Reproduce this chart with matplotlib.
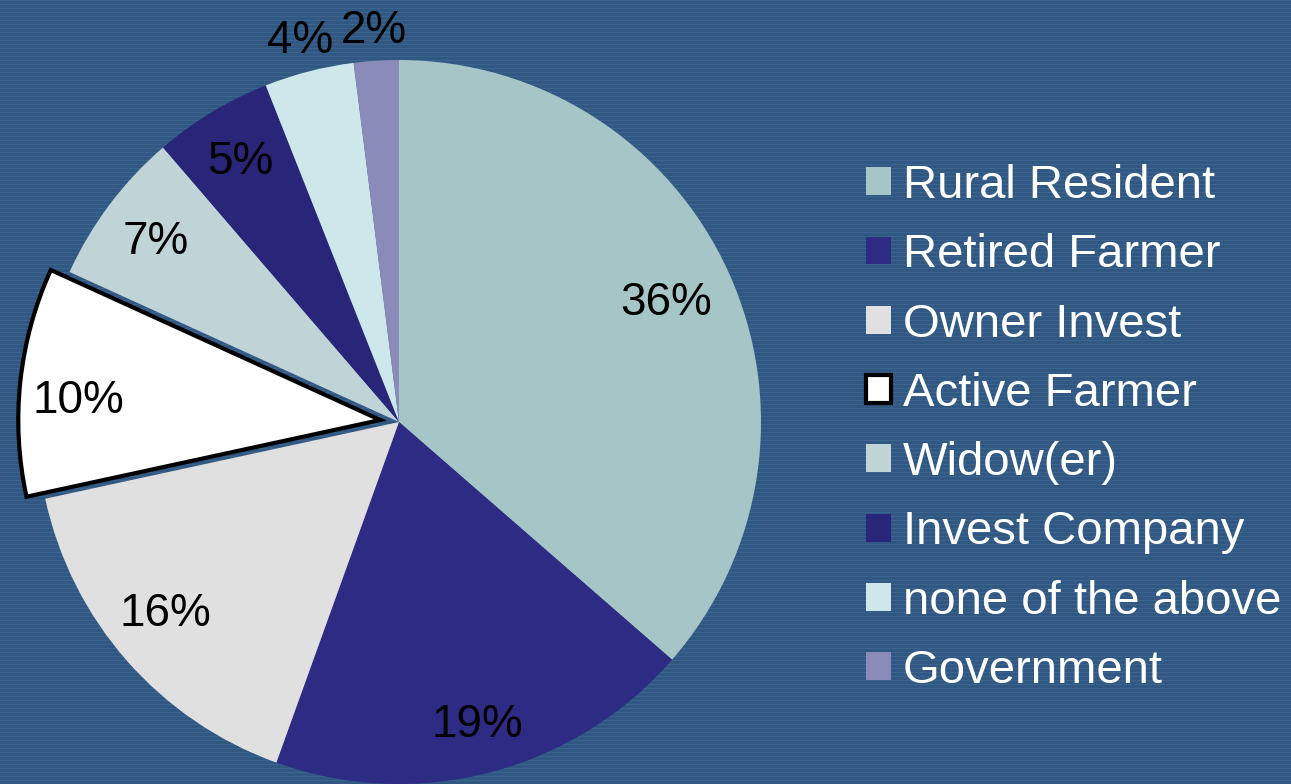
import numpy as np
import matplotlib.pyplot as plt
from matplotlib.patches import Patch

plt.rcParams['font.family'] = ['Liberation Sans', 'DejaVu Sans']

# data (percent of owners)
categories = ['Rural Resident', 'Retired Farmer', 'Owner Invest', 'Active Farmer',
              'Widow(er)', 'Invest Company', 'none of the above', 'Government']
shares = [36.4, 19.1, 16.1, 10.2, 6.9, 5.3, 4.0, 2.0]
pct_labels = ['36%', '19%', '16%', '10%', '7%', '5%', '4%', '2%']

colors = ['#A5C5C7', '#2D2B84', '#E0E0E0', '#FFFFFF',
          '#C0D3D6', '#29267A', '#CDE7EB', '#8B8BB9']
explode = [0, 0, 0, 0.052, 0, 0, 0, 0]
label_r = [0.81, 0.855, 0.83, 0.835, 0.84, 0.85, 1.095, 1.09]
label_dtheta = [0, 0, -2.2, 2.0, 0, 0, 0, 0]   # degrees, small nudges

W, H = 1291, 784
cx, cy, R = 399, 422, 362

fig = plt.figure(figsize=(W / 100, H / 100), dpi=100)

# striped slide background
bg = np.empty((H, W, 3))
base = np.array([0x30, 0x58, 0x82]) / 255
light = np.array([0x3A, 0x63, 0x8E]) / 255
rows = np.arange(H) % 4 == 0
bg[:] = base
bg[rows] = light
fig.figimage(bg, xo=0, yo=0, zorder=-10)

ax = fig.add_axes([0, 0, 1, 1])
ax.patch.set_alpha(0)
wedges, _ = ax.pie(shares, colors=colors, explode=explode, startangle=90,
                   counterclock=False, radius=1)
for i, w in enumerate(wedges):
    w.set_linewidth(0)
    if categories[i] == 'Active Farmer':
        w.set_edgecolor('black')
        w.set_linewidth(3)
        w.set_joinstyle('miter')
        w.set_zorder(5)

for w, lab, r, dt in zip(wedges, pct_labels, label_r, label_dtheta):
    mid = np.deg2rad((w.theta1 + w.theta2) / 2 + dt)
    x = w.center[0] + r * np.cos(mid)
    y = w.center[1] + r * np.sin(mid) - 3 / R
    ax.text(x, y, lab, ha='center', va='center', fontsize=33, color='black', zorder=6)

ax.set_xlim(-cx / R, (W - cx) / R)
ax.set_ylim(-(H - cy) / R, cy / R)
ax.set_aspect('equal')
ax.axis('off')

handles = [Patch(facecolor=c, edgecolor='black' if n == 'Active Farmer' else c,
                 linewidth=3 if n == 'Active Farmer' else 0)
           for c, n in zip(colors, categories)]
leg = fig.legend(handles, categories, loc='upper left',
                 bbox_to_anchor=(866 / W, 1 - 164 / H), frameon=False,
                 fontsize=34, handlelength=0.53, handleheight=0.53,
                 handletextpad=0.25, labelspacing=0.535, borderpad=0,
                 borderaxespad=0)
for t in leg.get_texts():
    t.set_color('white')

fig.savefig('out.png', dpi=100)
